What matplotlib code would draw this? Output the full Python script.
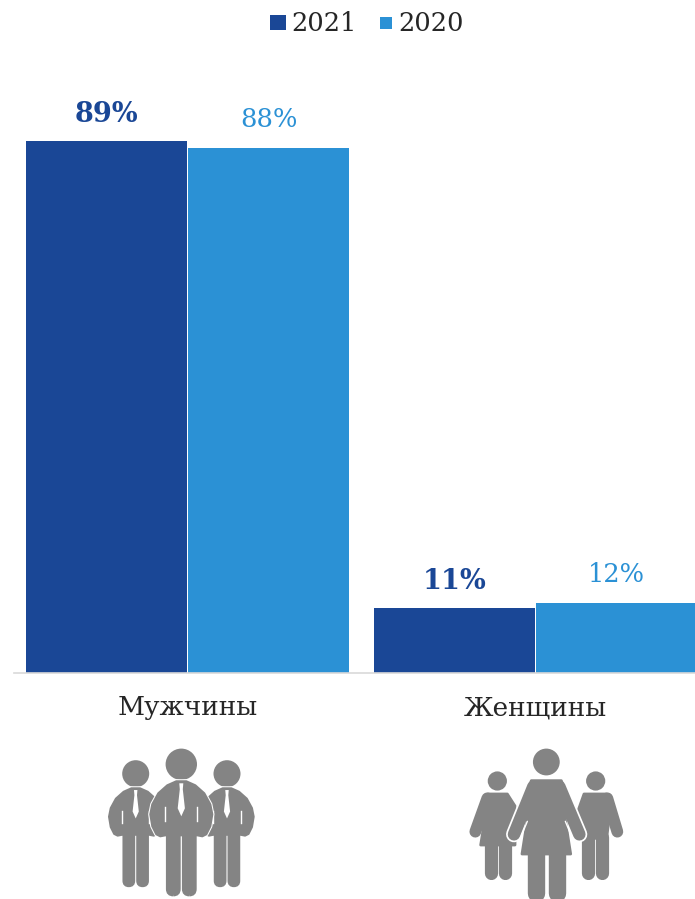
import numpy as np
import matplotlib
matplotlib.use('Agg')
import matplotlib.pyplot as plt
from matplotlib.patches import Circle, FancyBboxPatch, Polygon, Rectangle

categories = ['Мужчины', 'Женщины']
years = ['2021', '2020']
values_2021 = [89.1, 10.9]
values_2020 = [87.9, 11.7]
labels_2021 = ['89%', '11%']
labels_2020 = ['88%', '12%']

DARK = '#1a4796'
LIGHT = '#2b91d5'
GREY = '#848484'
TEXT = '#262626'
FONT = 'DejaVu Serif'

W, H = 695, 899
fig = plt.figure(figsize=(W / 100, H / 100), dpi=100)

# bars
ax = fig.add_axes([13.5 / W, (H - 673) / H, 696 / W, 673 / H])
x = np.arange(len(categories))
bars_2021 = ax.bar(x - 0.2335, values_2021, width=0.4635, color=DARK)
bars_2020 = ax.bar(x + 0.2335, values_2020, width=0.4635, color=LIGHT)
ax.bar_label(bars_2021, labels=labels_2021, padding=9.5,
             color=DARK, fontsize=19.5, fontweight='bold', family=FONT)
ax.bar_label(bars_2020, labels=labels_2020, padding=11.5,
             color=LIGHT, fontsize=18.5, family=FONT)
ax.set_xlim(-0.5, 1.5)
ax.set_ylim(0, 673 / 5.97)
ax.set_xticks(x)
ax.set_xticklabels(categories, fontsize=19, family=FONT, color=TEXT)
ax.tick_params(axis='x', length=0, pad=16)
ax.set_yticks([])
for s in ['top', 'left', 'right']:
    ax.spines[s].set_visible(False)
ax.spines['bottom'].set_color('#d9d9d9')
ax.spines['bottom'].set_linewidth(1.2)

# overlay in pixel coordinates for legend and icons
ov = fig.add_axes([0, 0, 1, 1])
ov.set_xlim(0, W)
ov.set_ylim(H, 0)
ov.axis('off')

ov.add_patch(Rectangle((270, 15), 16, 15, color=DARK, lw=0))
ov.add_patch(Rectangle((380, 17), 12, 12, color=LIGHT, lw=0))
ov.text(291, 31, years[0], fontsize=18.5, family=FONT, color=TEXT, va='baseline')
ov.text(398, 31, years[1], fontsize=18.5, family=FONT, color=TEXT, va='baseline')


def leg(x0, y0, w, h, z=3):
    ov.add_patch(FancyBboxPatch((x0 + 2, y0), w - 4, h - 3,
                                boxstyle='round,pad=0,rounding_size=%f' % ((w - 4) / 2),
                                fc=GREY, ec=GREY, lw=3, zorder=z))


def man(cx, cy, s, z=3):
    # shape in px relative to the head centre, s = scale
    ov.add_patch(Circle((cx, cy), 15.7 * s, fc=GREY, ec='none', zorder=z))
    body = [(-5, 17), (-14, 21), (-23, 29), (-29, 40), (-31, 50), (-29, 62), (-25, 70),
            (-21, 72), (-16, 71), (16, 71), (21, 72), (25, 70), (29, 62), (31, 50),
            (29, 40), (23, 29), (14, 21), (5, 17)]
    pts = [(cx + a * s, cy + b * s) for a, b in body]
    # thin white halo, then the filled body
    ov.add_patch(Polygon(pts, closed=True, fc='white', ec='white', lw=3, joinstyle='round', zorder=z))
    ov.add_patch(Polygon(pts, closed=True, fc=GREY, ec=GREY, lw=1.5, joinstyle='round', zorder=z))
    leg(cx - 15.3 * s, cy + 66 * s, 14.6 * s, 67 * s, z)
    leg(cx + 0.7 * s, cy + 66 * s, 14.6 * s, 67 * s, z)
    tie = [(-2, 19), (2, 19), (1.5, 25), (3.6, 44), (0, 52), (-3.6, 44), (-1.5, 25)]
    ov.add_patch(Polygon([(cx + a * s, cy + b * s) for a, b in tie], closed=True, fc='white', ec='none', zorder=z))
    for sx in (-1, 1):
        ov.plot([cx + sx * 16 * s] * 2, [cy + 43 * s, cy + 57 * s], color='white', lw=1.0, zorder=z)


man(135.7, 773.7, 0.86)
man(227, 773.7, 0.86)
man(181.3, 764.3, 1.0, z=4)


def zx(v):
    return 450 + v / 3


def zy(v):
    return 730 + v / 3


def woman_parts(pts, z):
    xy = [(zx(a), zy(b)) for a, b in pts]
    ov.add_patch(Polygon(xy, closed=True, fc=GREY, ec=GREY, lw=2, joinstyle='round', zorder=z))


def limb(a, b, w, z, color=GREY):
    ov.plot([zx(a[0]), zx(b[0])], [zy(a[1]), zy(b[1])], color=color, lw=w,
            solid_capstyle='round', zorder=z)


# side figures
ov.add_patch(Circle((zx(142), zy(153)), 9.6, fc=GREY, ec='none', zorder=3))
woman_parts([(114, 192), (172, 192), (195, 228), (195, 345), (92, 345), (104, 270)], 3)
limb((112, 205), (76, 305), 8.5, 3)
limb((122, 345), (122, 428), 9.5, 3)
limb((165, 345), (165, 428), 9.5, 3)

ov.add_patch(Circle((zx(437), zy(153)), 9.6, fc=GREY, ec='none', zorder=3))
woman_parts([(402, 192), (470, 192), (482, 225), (470, 325), (400, 325), (385, 240)], 3)
limb((472, 205), (502, 305), 8.5, 3)
limb((415, 320), (415, 428), 9.5, 3)
limb((456, 320), (456, 428), 9.5, 3)

# centre figure with thin white halo
ov.add_patch(Circle((zx(289), zy(96)), 13.4, fc=GREY, ec='none', zorder=5))
limb((250, 170), (192, 313), 11.5, 4, 'white')
limb((328, 170), (388, 313), 11.5, 4, 'white')
woman_parts([(244, 152), (334, 152), (352, 200), (346, 270), (362, 372), (216, 372), (232, 270), (226, 200)], 5)
limb((250, 170), (192, 313), 9, 5)
limb((328, 170), (388, 313), 9, 5)
limb((258, 372), (258, 490), 12.5, 5)
limb((320, 372), (320, 490), 12.5, 5)
limb((232, 274), (214, 318), 1.0, 6, 'white')
limb((346, 274), (364, 318), 1.0, 6, 'white')

fig.savefig('out.png', dpi=100)
